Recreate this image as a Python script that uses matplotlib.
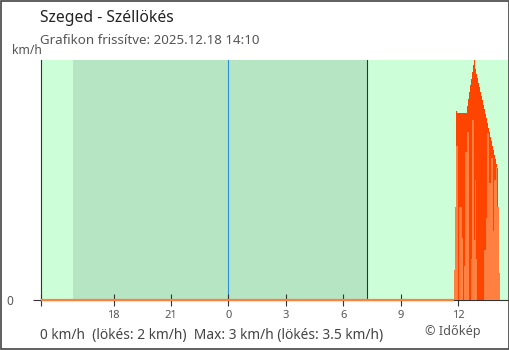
import numpy as np
import matplotlib
matplotlib.use("Agg")
import matplotlib.pyplot as plt
from matplotlib.patches import Rectangle

plt.rcParams['font.family'] = ['Noto Sans', 'DejaVu Sans']

# idő: órák éjfélhez képest (negatív = előző nap)
view_start, view_end = -9.79, 14.6
night_start, sunrise = -8.10, 7.235
midnight = 0.0
tick_hours = [-6, -3, 0, 3, 6, 9, 12]
tick_labels = ['18', '21', '0', '3', '6', '9', '12']

# 3 perces mintavétel 11:48-tól
sample_start = 11.8
sample_step = 0.05
calm_until = 11.8   # addig 0 km/h

gust = [0.4, 1.3, 2.76, 2.73, 2.73, 2.73, 2.73, 2.73, 2.73, 2.73,
        2.73, 2.73, 2.73, 2.83, 2.93, 3.03, 3.13, 3.23, 3.33, 3.43,
        3.5, 3.43, 3.37, 3.30, 3.24, 3.17, 3.11, 3.04, 2.97, 2.91,
        2.84, 2.78, 2.71, 2.65, 2.58, 2.51, 2.45, 2.38, 2.32, 2.25,
        2.19, 2.12, 2.05, 1.99, 1.92, 1.86, 0.0, 0.0]
wind = [0.44, 1.36, 2.25, 2.25, 0.0, 1.36, 1.36, 1.36, 0.9, 0.0,
        0.5, 2.16, 2.16, 2.45, 2.45, 0.0, 0.0, 0.6, 2.62, 2.62,
        0.88, 0.88, 1.75, 0.6, 0.0, 0.0, 0.0, 0.0, 0.0, 0.0,
        0.0, 0.73, 0.73, 1.2, 2.43, 2.43, 1.7, 1.7, 2.07, 2.07,
        1.0, 1.75, 1.75, 1.94, 1.94, 1.36, 1.36, 0.39]
times = sample_start + sample_step * np.arange(len(gust))

y_max = 3.5

fig = plt.figure(figsize=(5.1, 3.5), dpi=100)
ax = fig.add_axes([41 / 510, 1 - 300 / 350, 467 / 510, 240 / 350])
ax.set_facecolor('#ccffd8')

# éjszaka
ax.axvspan(night_start, sunrise, color='#b5e5c2', lw=0, zorder=0)
ax.axvline(midnight, color='#2f8fd8', lw=0.8, zorder=1)
ax.axvline(sunrise, color='#333333', lw=0.8, zorder=1)

ax.bar(times, gust, width=sample_step * 1.05, align='edge', color='#ff4400',
       linewidth=0, zorder=2)
ax.bar(times, wind, width=sample_step, align='edge', color='#ff8040',
       linewidth=0, zorder=3)
ax.plot([view_start, calm_until], [0, 0], color='#ff8040', lw=1.6,
        solid_capstyle='butt', clip_on=False, zorder=5)

ax.set_xlim(view_start, view_end)
ax.set_ylim(0, y_max)

for s in ['top', 'right']:
    ax.spines[s].set_visible(False)
for s in ['left', 'bottom']:
    ax.spines[s].set_color('#333333')
    ax.spines[s].set_linewidth(0.8)

ax.set_xticks([view_start] + tick_hours)
ax.set_xticklabels([''] + tick_labels)
ax.tick_params(axis='x', direction='inout', length=9, width=0.8,
               color='#333333', labelcolor='#555555', labelsize=8, pad=2.5)
ax.set_yticks([0])
ax.set_yticklabels(['0'])
ax.tick_params(axis='y', direction='out', length=6, width=0.8,
               color='#333333', labelcolor='#555555', labelsize=8.5, pad=14)

fig.text(40 / 510, 1 - 18 / 350, 'Szeged - Széllökés', fontsize=11.3,
         color='#222222', va='center', ha='left')
fig.text(40 / 510, 1 - 41 / 350, 'Grafikon frissítve: 2025.12.18 14:10',
         fontsize=9.6, color='#555555', va='center', ha='left')
fig.text(12 / 510, 1 - 51 / 350, 'km/h', fontsize=8.8, color='#555555',
         va='center', ha='left')
fig.text(40 / 510, 1 - 335 / 350,
         '0 km/h  (lökés: 2 km/h)  Max: 3 km/h (lökés: 3.5 km/h)',
         fontsize=9.9, color='#444444', va='center', ha='left')
fig.text(453 / 510, 1 - 331 / 350, '© Időkép', fontsize=9.1,
         color='#555555', va='center', ha='center')

# keret a kép körül
fig.add_artist(Rectangle((0.001, 0.0015), 0.997, 0.996, transform=fig.transFigure,
                         fill=False, edgecolor='#444444', lw=1.2))

fig.savefig('out.png', dpi=100, facecolor='white')
